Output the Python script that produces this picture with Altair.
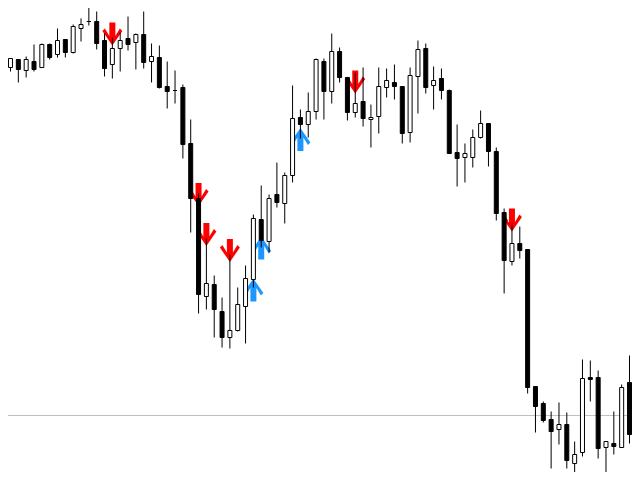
import altair as alt
import pandas as pd

# Candle OHLC values (index 0..79)
opens = [143.3, 144.1, 143.0, 143.9, 143.3, 145.6, 144.6, 146.1, 144.8, 147.2,
         147.9, 147.9, 146.0, 143.6, 145.2, 146.2, 145.8, 146.6, 143.9, 144.3,
         141.4, 141.0, 141.3, 135.7, 130.2, 120.4, 121.6, 118.9, 116.3, 117.0,
         119.4, 122.1, 128.1, 125.9, 130.6, 129.7, 132.5, 138.3, 137.6, 138.9,
         143.9, 140.9, 144.9, 142.3, 138.8, 139.9, 138.1, 138.4, 141.3, 141.8,
         141.4, 136.8, 142.4, 145.2, 141.5, 142.2, 141.0, 134.8, 134.3, 134.3,
         136.3, 137.7, 134.9, 128.8, 123.9, 125.7, 125.1, 111.4, 109.7, 108.1,
         107.1, 107.6, 103.7, 104.8, 112.3, 112.3, 105.3, 105.7, 105.3, 111.8]
highs = [144.2, 144.1, 144.4, 145.6, 145.7, 145.7, 147.2, 146.1, 147.6, 148.2,
         149.6, 148.9, 146.7, 146.3, 146.8, 148.4, 146.7, 148.9, 145.7, 145.5,
         143.9, 143.0, 141.6, 138.1, 130.7, 126.2, 122.5, 120.3, 124.6, 121.3,
         123.5, 128.6, 131.5, 130.6, 133.8, 132.8, 141.5, 139.1, 140.8, 144.2,
         144.2, 146.7, 145.3, 142.3, 142.8, 143.3, 139.6, 143.3, 143.2, 143.6,
         141.4, 143.3, 146.0, 145.7, 143.4, 143.2, 141.1, 137.6, 135.7, 137.1,
         139.0, 137.7, 135.3, 129.2, 127.7, 127.4, 125.1, 111.4, 109.9, 108.9,
         109.8, 108.8, 105.9, 114.1, 114.0, 113.0, 105.9, 108.9, 111.6, 114.5]
lows = [142.9, 141.8, 142.3, 142.9, 143.3, 144.1, 144.3, 144.3, 144.7, 145.9,
        147.5, 145.1, 142.4, 142.2, 142.9, 145.0, 143.1, 143.2, 141.8, 141.2,
        139.2, 139.7, 134.2, 126.8, 118.7, 119.1, 116.3, 115.3, 115.2, 116.9,
        115.7, 121.3, 125.3, 124.8, 129.3, 127.7, 131.8, 136.2, 136.3, 138.1,
        138.1, 139.7, 141.8, 138.0, 138.3, 137.4, 135.3, 136.7, 140.3, 140.1,
        135.7, 135.8, 138.7, 140.7, 139.1, 140.1, 134.7, 131.4, 131.8, 133.3,
        136.2, 133.4, 128.0, 120.7, 123.5, 124.2, 110.7, 106.8, 107.8, 103.2,
        105.6, 103.2, 102.7, 104.4, 109.9, 104.2, 102.7, 104.6, 105.3, 105.7]
closes = [144.2, 143.1, 144.1, 143.1, 145.6, 144.3, 146.0, 144.8, 147.4, 147.6,
          147.9, 145.7, 143.2, 145.2, 146.0, 145.6, 146.6, 143.8, 144.4, 141.3,
          140.9, 141.0, 135.6, 130.2, 120.6, 121.7, 119.1, 116.3, 117.0, 119.6,
          122.2, 128.2, 126.0, 130.2, 129.8, 132.5, 138.2, 137.6, 138.9, 144.1,
          140.9, 144.9, 142.3, 138.8, 139.7, 138.2, 138.3, 141.4, 142.0, 141.4,
          136.7, 142.5, 145.1, 141.3, 142.0, 141.0, 134.7, 134.2, 134.7, 136.3,
          137.7, 134.9, 128.7, 124.0, 125.7, 125.0, 111.3, 109.4, 108.0, 106.9,
          107.6, 104.0, 104.6, 112.2, 112.1, 105.2, 105.9, 105.4, 111.3, 106.6]

# Signal arrows
sell_idx = [13, 24, 25, 28, 44, 64]
sell_price = [146.65, 130.6, 126.6, 125.0, 141.85, 128.05]
buy_idx = [31, 32, 37]
buy_price = [121.05, 125.25, 136.1]

level_price = [108.5]

candles = pd.DataFrame({
    "i": list(range(len(opens))),
    "open": opens, "high": highs, "low": lows, "close": closes,
})
sells = pd.DataFrame({"i": sell_idx, "price": sell_price})
buys = pd.DataFrame({"i": buy_idx, "price": buy_price})
level = pd.DataFrame({"level": level_price})

xs = alt.Scale(domain=[-0.319, 79.32], nice=False, zero=False, padding=0)
ys = alt.Scale(domain=[102.85, 149.25], nice=False, zero=False, padding=0)

down_arrow = ("M -0.3 -1.15 L 0.3 -1.15 L 0.3 0.2 L 0.75 -0.55 L 1 -0.3 "
              "L 0 1.15 L -1 -0.3 L -0.75 -0.55 L -0.3 0.2 Z")
up_arrow = ("M -0.3 1.15 L 0.3 1.15 L 0.3 -0.2 L 0.75 0.55 L 1 0.3 "
            "L 0 -1.15 L -1 0.3 L -0.75 0.55 L -0.3 -0.2 Z")

levelrule = alt.Chart(level).mark_rule(color="#C0C0C0", strokeWidth=1).encode(
    y=alt.Y("level:Q", scale=ys, axis=None)
)

sell_pts = alt.Chart(sells).mark_point(
    shape=down_arrow, filled=True, size=400, color="#FF0000", opacity=1, strokeWidth=0
).encode(
    x=alt.X("i:Q", scale=xs, axis=None),
    y=alt.Y("price:Q", scale=ys, axis=None),
)

buy_pts = alt.Chart(buys).mark_point(
    shape=up_arrow, filled=True, size=400, color="#1E96FF", opacity=1, strokeWidth=0
).encode(
    x=alt.X("i:Q", scale=xs, axis=None),
    y=alt.Y("price:Q", scale=ys, axis=None),
)

wicks = alt.Chart(candles).mark_rule(color="black", strokeWidth=1).encode(
    x=alt.X("i:Q", scale=xs, axis=None),
    y=alt.Y("high:Q", scale=ys, axis=None),
    y2="low:Q",
)

bodies = alt.Chart(candles).mark_bar(width=4, stroke="black", strokeWidth=1).encode(
    x=alt.X("i:Q", scale=xs, axis=None),
    y=alt.Y("open:Q", scale=ys, axis=None),
    y2="close:Q",
    fill=alt.condition(alt.datum.close >= alt.datum.open, alt.value("white"), alt.value("black")),
)

chart = alt.layer(levelrule, sell_pts, buy_pts, wicks, bodies).properties(
    width=624, height=464, padding=0, autosize=alt.AutoSizeParams(type="none"),
    background="white",
).configure_view(stroke=None)

chart.save("out.html", embed_options={"renderer": "svg", "actions": False})
